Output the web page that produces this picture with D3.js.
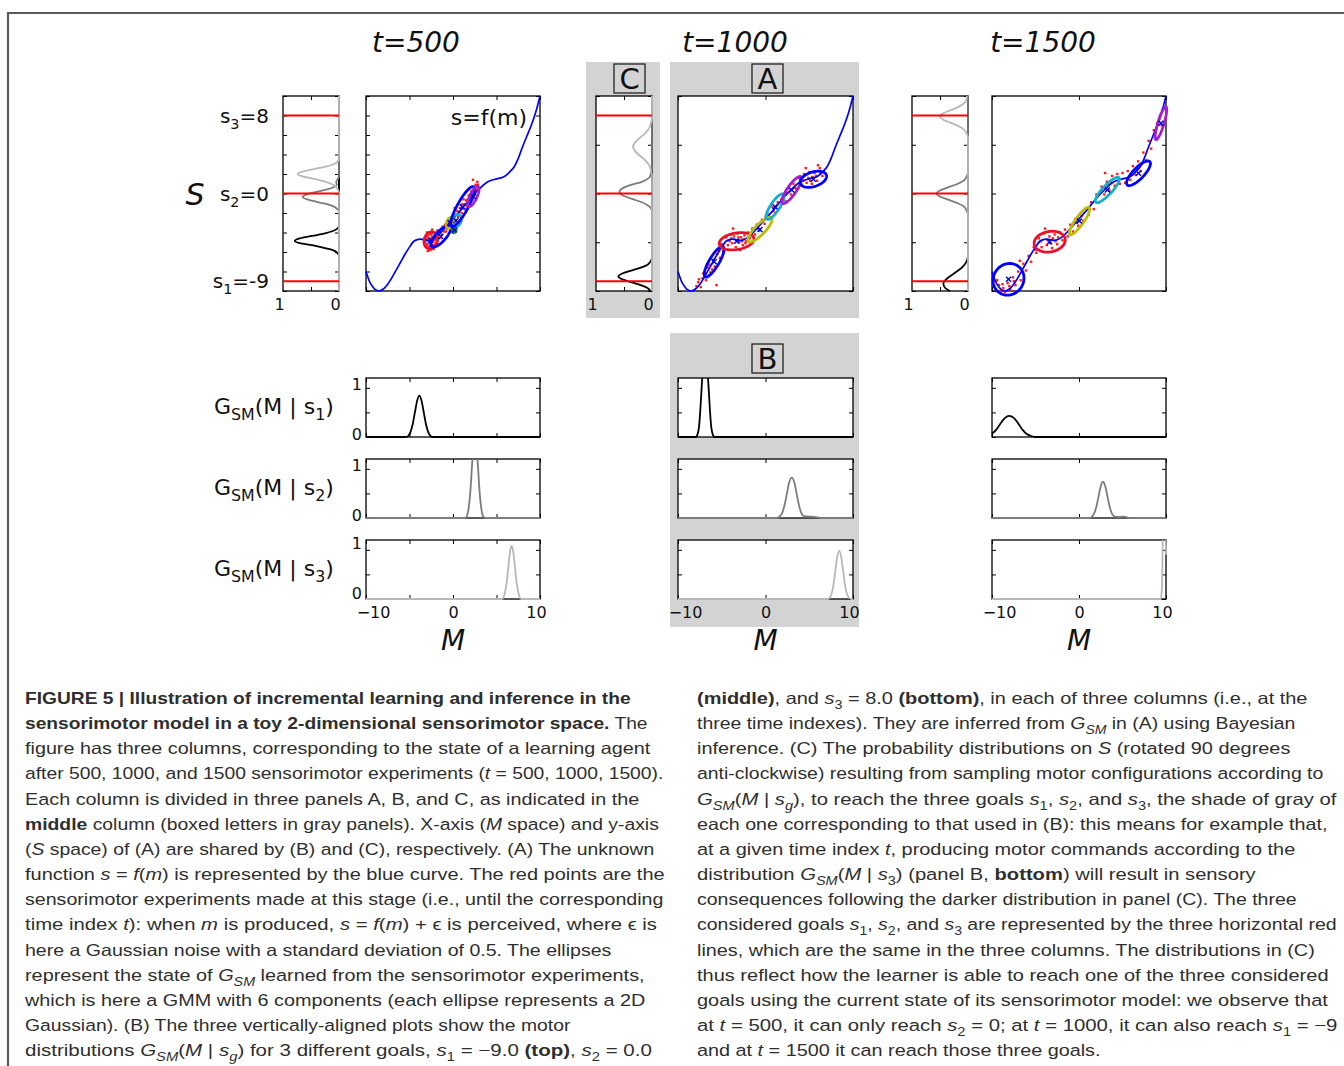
<!doctype html>
<html>
<head>
<meta http-equiv="Content-type" content="text/html; charset=utf-8"/>
<script src="https://d3js.org/d3.v7.min.js"></script>
<style>
body{margin:0;background:#fff;}
text{font-family:"DejaVu Sans",sans-serif;fill:#111;}
.cap text{font-family:"Liberation Sans",Arial,sans-serif;fill:#2e2e2e;}
</style>
</head>
<body>
<svg width="1344" height="1066"></svg>
<script>
// ---- values ----
var titles = ["t=500", "t=1000", "t=1500"];
var goals = [-9, 0, 8];
var goalLabels = ["s<sub>1</sub>=-9", "s<sub>2</sub>=0", "s<sub>3</sub>=8"];
var bLabels = ["G<sub>SM</sub>(M | s<sub>1</sub>)", "G<sub>SM</sub>(M | s<sub>2</sub>)", "G<sub>SM</sub>(M | s<sub>3</sub>)"];

// s = f(m), the blue curve [m, s]
var fCurve = [[-10,-8.0],[-9.5,-9.2],[-9,-9.8],[-8.5,-10.0],[-8,-9.8],[-7.5,-9.3],[-7,-8.6],[-6.5,-7.8],[-6,-7.0],
  [-5.5,-6.2],[-5,-5.5],[-4.5,-4.9],[-4,-4.7],[-3.5,-4.7],[-3,-4.8],[-2.5,-4.75],[-2,-4.5],[-1.5,-4.1],[-1,-3.6],
  [0,-2.6],[1,-1.6],[2,-0.5],[3,0.45],[4,1.2],[5,1.5],[5.5,1.6],[6,1.8],[6.5,2.2],[7,2.7],[7.5,3.6],[8,4.8],
  [8.5,5.9],[9,7.0],[9.5,8.3],[10,10]];

// sensorimotor experiments (red points) [m, s]
var pts500 = [[-3.1,-4.6],[-3.0,-5.2],[-2.9,-4.4],[-2.8,-5.5],[-2.7,-4.9],[-2.6,-4.2],[-2.6,-5.8],[-2.5,-5.0],[-2.4,-4.5],
  [-2.3,-5.3],[-2.2,-4.0],[-2.1,-4.8],[-2.0,-5.1],[-1.9,-4.3],[-1.8,-3.8],[-1.6,-4.6],[-1.5,-3.9],[-1.3,-4.2],[-1.2,-3.4],
  [-1.0,-3.9],[-0.9,-3.2],[-0.7,-3.6],[-0.5,-2.8],[-0.4,-3.4],[-0.2,-2.5],[0.0,-3.0],[0.1,-2.2],[0.3,-2.7],[0.5,-1.8],
  [0.6,-2.4],[0.8,-1.5],[1.0,-2.0],[1.1,-1.1],[1.3,-1.6],[1.5,-0.7],[1.6,-1.3],[1.8,-0.2],[1.9,-0.8],[2.1,0.2],[2.2,-0.5],
  [2.4,0.6],[2.5,-0.1],[2.6,0.9],[2.7,0.3],[2.8,1.2],[2.9,0.5],[-2.9,-5.9],[-2.4,-3.7],[0.2,-1.5],[2.3,1.4],[-3.0,-4.0],
  [-2.7,-5.4],[-2.2,-5.6],[1.2,-0.6],[-3.2,-5.0],[-3.1,-5.4],[-2.95,-4.8],[-2.85,-4.1],[-2.75,-5.1],[-2.65,-4.6],
  [-2.55,-5.4],[-2.45,-4.2],[-2.35,-4.9],[-2.25,-5.7],[-2.15,-4.4],[-2.05,-5.3],[-1.95,-4.7],[-1.7,-4.2],[-1.4,-4.5],
  [-1.1,-3.6],[-0.8,-3.9],[-0.6,-3.1],[-0.3,-2.9],[0.4,-2.2],[0.7,-1.9],[0.9,-1.2],[1.4,-1.1],[1.7,-0.6],[2.0,-0.1],
  [2.3,0.3],[2.6,0.4],[2.75,0.8],[2.85,0.9]];
var pts1000 = [[-7.9,-9.5],[-7.6,-8.8],[-7.4,-9.6],[-7.1,-8.2],[-6.8,-8.9],[-6.6,-7.6],[-6.3,-8.1],[-6.0,-6.8],[-5.8,-7.5],
  [-5.5,-6.2],[-5.2,-6.6],[-5.0,-5.2],[-4.8,-5.9],[-4.5,-4.5],[-4.3,-5.3],[-4.0,-4.2],[-3.8,-5.1],[-3.6,-4.4],[-3.4,-5.5],
  [-3.2,-4.1],[-3.0,-5.0],[-2.8,-4.5],[-2.6,-5.3],[-2.4,-4.3],[-2.2,-4.9],[-2.0,-4.0],[-1.8,-4.6],[-1.5,-3.6],[-1.2,-4.2],
  [-1.0,-3.2],[-0.7,-3.8],[-0.4,-2.7],[-0.1,-3.1],[0.2,-2.0],[0.5,-2.6],[0.8,-1.4],[1.1,-2.0],[1.4,-0.9],[1.7,-1.4],
  [2.0,-0.2],[2.3,-0.8],[2.6,0.5],[2.9,-0.1],[3.2,1.0],[3.5,0.5],[3.8,1.6],[4.1,0.9],[4.4,2.0],[4.7,1.1],[5.0,2.2],
  [5.3,1.0],[5.6,2.1],[5.9,1.3],[6.2,2.6],[6.5,1.8],[-5.6,-9.4],[-3.7,-3.6],[4.6,2.6],[6.0,2.9],[-2.9,-5.8],
  [-7.7,-9.1],[-7.2,-8.7],[-6.9,-8.2],[-6.4,-7.3],[-6.1,-7.8],[-5.3,-5.9],[-4.1,-4.9],[-3.9,-4.6],[-3.3,-4.8],[-3.1,-4.5],
  [-2.7,-4.9],[-2.5,-4.7],[-2.3,-5.1],[-1.9,-4.3],[-0.9,-3.6],[0.0,-2.5],[0.9,-1.8],[1.8,-0.6],[2.4,0.1],[3.3,0.6],
  [4.0,1.4],[4.9,1.6],[5.4,1.7],[5.8,1.8],[6.3,2.1],[4.3,1.3],[5.1,1.3]];
var pts1500 = [[-9.9,-8.6],[-9.7,-9.6],[-9.4,-8.9],[-9.1,-10.0],[-8.8,-9.3],[-8.5,-10.1],[-8.2,-9.2],[-7.9,-9.9],[-7.6,-8.6],
  [-7.3,-9.4],[-7.0,-8.0],[-6.7,-8.9],[-6.4,-7.2],[-6.1,-7.9],[-5.8,-6.4],[-5.5,-7.0],[-5.2,-5.5],[-4.9,-6.1],[-4.6,-4.6],
  [-4.3,-5.5],[-4.0,-4.1],[-3.7,-5.3],[-3.4,-4.4],[-3.1,-5.6],[-2.8,-4.2],[-2.5,-5.2],[-2.2,-4.0],[-1.9,-4.8],[-1.6,-3.7],
  [-1.3,-4.4],[-1.0,-3.2],[-0.7,-3.9],[-0.4,-2.6],[-0.1,-3.3],[0.2,-2.0],[0.5,-2.8],[0.8,-1.5],[1.1,-2.2],[1.4,-0.9],
  [1.7,-1.6],[2.0,-0.1],[2.3,-0.9],[2.6,0.7],[2.9,-0.1],[3.2,1.2],[3.5,0.3],[3.8,1.8],[4.1,0.8],[4.4,2.0],[4.7,1.0],
  [5.0,2.1],[5.3,1.1],[5.6,2.3],[5.9,1.4],[6.2,2.8],[6.5,1.9],[6.8,3.3],[7.1,2.3],[7.4,4.2],[7.7,3.4],[8.0,5.4],[8.3,4.6],
  [8.6,6.5],[8.9,5.7],[9.2,7.6],[9.5,7.0],[-6.8,-6.9],[-3.9,-3.6],[3.0,2.1],
  [-9.6,-9.0],[-9.2,-9.4],[-8.7,-9.7],[-8.0,-9.5],[-7.5,-9.0],[-5.0,-5.8],[-4.4,-4.9],[-3.6,-4.8],[-3.3,-5.1],[-3.0,-4.6],
  [-2.7,-4.9],[-2.4,-4.5],[-0.3,-3.0],[0.3,-2.3],[2.5,0.2],[3.1,0.5],[3.4,0.9],[3.7,1.1],[6.6,2.5],[7.0,2.9],[7.2,3.0],
  [9.3,7.9],[9.4,8.1],[9.6,8.6],[9.0,7.2]];

// GMM components: [m centre, s centre, semi-axis a, semi-axis b, angle deg, component]
var ell500 = [[-2.55,-4.8,0.9,0.75,60,1],[-1.4,-4.4,1.47,0.55,44,0],[-0.34,-3.0,0.6,0.4,60,2],[0.15,-3.75,0.3,0.2,60,5],
  [0.35,-2.8,0.7,0.55,50,3],[1.1,-1.35,2.4,0.6,58,0],[2.35,-0.3,1.16,0.4,62,4]];
var ell1000 = [[-5.87,-7.0,1.86,0.55,56,0],[-3.3,-4.9,2.0,0.85,8,1],[-0.63,-3.7,1.79,0.55,42,2],[1.09,-1.35,1.6,0.5,53,3],
  [3.0,0.36,1.72,0.5,52,4],[5.47,1.46,1.55,0.75,15,0]];
var ell1500 = [[-8.1,-8.8,1.8,1.6,20,0],[-3.37,-4.94,1.8,1.05,8,1],[0.06,-2.82,1.77,0.45,51,2],[3.26,0.36,1.83,0.5,43,3],
  [6.84,2.07,1.77,0.6,42,0],[9.42,7.2,1.78,0.35,71,4]];

// (C) distributions on S for goals s1, s2, s3 : [s, p]
var sDist500 = [
  [[-10,0],[-6.4,0],[-6.1,0.03],[-5.8,0.11],[-5.6,0.25],[-5.3,0.48],[-5.1,0.7],[-4.85,0.79],[-4.6,0.7],[-4.35,0.48],[-4.1,0.25],[-3.85,0.11],[-3.6,0.03],[-3.3,0],[10,0]],
  [[-10,0],[-1.9,0],[-1.6,0.03],[-1.35,0.09],[-1.1,0.21],[-0.85,0.4],[-0.6,0.57],[-0.33,0.65],[-0.08,0.57],[0.17,0.4],[0.42,0.21],[0.67,0.09],[0.9,0.04],[1.2,0.05],[1.5,0.02],[1.8,0],[10,0]],
  [[-10,0],[0.1,0],[0.5,0.03],[0.9,0.1],[1.2,0.24],[1.5,0.45],[1.75,0.65],[2.0,0.74],[2.25,0.65],[2.5,0.45],[2.75,0.24],[3.0,0.1],[3.25,0.03],[3.6,0],[10,0]]];
var sDist1000 = [
  [[-10,0.03],[-9.7,0.08],[-9.4,0.2],[-9.1,0.37],[-8.8,0.53],[-8.5,0.6],[-8.2,0.53],[-7.9,0.37],[-7.6,0.2],[-7.3,0.08],[-7.0,0.03],[-6.6,0],[10,0]],
  [[-10,0],[-1.8,0],[-1.5,0.02],[-1.2,0.08],[-0.9,0.18],[-0.55,0.36],[-0.2,0.52],[0.18,0.58],[0.55,0.52],[0.9,0.36],[1.2,0.18],[1.5,0.08],[1.8,0.03],[2.1,0.02],[2.5,0],[10,0]],
  [[-10,0],[1.9,0],[2.4,0.02],[2.9,0.05],[3.4,0.12],[3.9,0.22],[4.35,0.3],[4.8,0.34],[5.25,0.3],[5.7,0.22],[6.2,0.12],[6.7,0.05],[7.2,0.02],[7.7,0],[10,0]]];
var sDist1500 = [
  [[-10,0.32],[-9.6,0.42],[-9.2,0.44],[-8.8,0.39],[-8.4,0.3],[-8.0,0.2],[-7.6,0.11],[-7.2,0.05],[-6.8,0.015],[-6.4,0],[10,0]],
  [[-10,0],[-2.1,0],[-1.7,0.03],[-1.3,0.08],[-0.95,0.2],[-0.6,0.37],[-0.3,0.5],[0,0.56],[0.3,0.5],[0.6,0.37],[0.95,0.2],[1.3,0.08],[1.7,0.03],[2.1,0],[10,0]],
  [[-10,0],[5.8,0],[6.2,0.03],[6.6,0.08],[6.95,0.18],[7.3,0.33],[7.6,0.45],[7.9,0.5],[8.2,0.45],[8.5,0.33],[8.85,0.18],[9.2,0.08],[9.6,0.03],[10,0.02]]];

// (B) motor distributions G_SM(M | s_g) : [m, p]
var mDist500 = [
  [[-10,0],[-5.4,0],[-5.1,0.03],[-4.87,0.11],[-4.62,0.27],[-4.37,0.51],[-4.12,0.74],[-3.87,0.84],[-3.62,0.74],[-3.37,0.51],[-3.12,0.27],[-2.87,0.11],[-2.62,0.03],[-2.3,0],[10,0]],
  [[-10,0],[1.4,0],[1.6,0.04],[1.8,0.2],[2.0,0.55],[2.2,1.1],[2.35,1.43],[2.53,1.6],[2.7,1.43],[2.85,1.1],[3.05,0.55],[3.25,0.2],[3.45,0.04],[3.7,0],[10,0]],
  [[-10,0],[5.6,0],[5.8,0.03],[6.0,0.16],[6.2,0.38],[6.4,0.72],[6.57,0.98],[6.74,1.08],[6.91,0.98],[7.08,0.72],[7.28,0.38],[7.48,0.16],[7.68,0.03],[7.9,0],[10,0]]];
var mDist1000 = [
  [[-10,0],[-8.0,0],[-7.8,0.04],[-7.6,0.2],[-7.45,0.55],[-7.3,1.0],[-7.1,1.5],[-6.91,1.7],[-6.7,1.5],[-6.5,1.0],[-6.35,0.55],[-6.2,0.2],[-6.0,0.04],[-5.8,0],[10,0]],
  [[-10,0],[1.3,0],[1.6,0.03],[1.9,0.1],[2.2,0.28],[2.45,0.5],[2.7,0.72],[3.0,0.82],[3.3,0.72],[3.55,0.5],[3.8,0.28],[4.1,0.1],[4.4,0.04],[5.0,0.03],[5.6,0.02],[6.5,0],[10,0]],
  [[-10,0],[7.1,0],[7.35,0.03],[7.6,0.14],[7.8,0.33],[8.0,0.6],[8.2,0.86],[8.43,0.98],[8.65,0.86],[8.85,0.6],[9.05,0.33],[9.25,0.14],[9.5,0.03],[9.8,0],[10,0]]];
var mDist1500 = [
  [[-10,0.07],[-9.5,0.15],[-9.0,0.28],[-8.5,0.39],[-8.03,0.43],[-7.5,0.39],[-7.0,0.28],[-6.5,0.15],[-6.0,0.06],[-5.5,0.02],[-5.0,0],[10,0]],
  [[-10,0],[1.2,0],[1.5,0.03],[1.76,0.1],[2.01,0.24],[2.26,0.45],[2.51,0.65],[2.76,0.74],[3.01,0.65],[3.26,0.45],[3.51,0.24],[3.76,0.1],[4.1,0.03],[4.6,0.02],[5.2,0.03],[5.8,0],[10,0]],
  [[-10,0],[9.4,0],[9.55,0.3],[9.62,1.2],[9.7,2.0],[9.8,2.2],[9.9,2.0],[9.98,1.2],[10,0.9]]];

var mTicks = [[-10,-5,0,5,10], [-10,0,10], [-10,0,10]];
var sTicks = [[-10,-8,-6,-4,-2,0,2,4,6,8,10], [-10,-5,0,5,10], [-10,-5,0,5,10]];
var pTicks = [0, 0.5, 1];

// caption lines
var capLeft = [
  "<b>FIGURE 5 | Illustration of incremental learning and inference in the</b>",
  "<b>sensorimotor model in a toy 2-dimensional sensorimotor space.</b> The",
  "figure has three columns, corresponding to the state of a learning agent",
  "after 500, 1000, and 1500 sensorimotor experiments (<i>t</i> = 500, 1000, 1500).",
  "Each column is divided in three panels A, B, and C, as indicated in the",
  "<b>middle</b> column (boxed letters in gray panels). X-axis (<i>M</i> space) and y-axis",
  "(<i>S</i> space) of (A) are shared by (B) and (C), respectively. (A) The unknown",
  "function <i>s</i> = <i>f</i>(<i>m</i>) is represented by the blue curve. The red points are the",
  "sensorimotor experiments made at this stage (i.e., until the corresponding",
  "time index <i>t</i>): when <i>m</i> is produced, <i>s</i> = <i>f</i>(<i>m</i>) + ϵ is perceived, where ϵ is",
  "here a Gaussian noise with a standard deviation of 0.5. The ellipses",
  "represent the state of <i>G<sub>SM</sub></i> learned from the sensorimotor experiments,",
  "which is here a GMM with 6 components (each ellipse represents a 2D",
  "Gaussian). (B) The three vertically-aligned plots show the motor",
  "distributions <i>G<sub>SM</sub></i>(<i>M</i> | <i>s<sub>g</sub></i>) for 3 different goals, <i>s</i><sub>1</sub> = −9.0 <b>(top)</b>, <i>s</i><sub>2</sub> = 0.0"];
var capRight = [
  "<b>(middle)</b>, and <i>s</i><sub>3</sub> = 8.0 <b>(bottom)</b>, in each of three columns (i.e., at the",
  "three time indexes). They are inferred from <i>G<sub>SM</sub></i> in (A) using Bayesian",
  "inference. (C) The probability distributions on <i>S</i> (rotated 90 degrees",
  "anti-clockwise) resulting from sampling motor configurations according to",
  "<i>G<sub>SM</sub></i>(<i>M</i> | <i>s<sub>g</sub></i>), to reach the three goals <i>s</i><sub>1</sub>, <i>s</i><sub>2</sub>, and <i>s</i><sub>3</sub>, the shade of gray of",
  "each one corresponding to that used in (B): this means for example that,",
  "at a given time index <i>t</i>, producing motor commands according to the",
  "distribution <i>G<sub>SM</sub></i>(<i>M</i> | <i>s</i><sub>3</sub>) (panel B, <b>bottom</b>) will result in sensory",
  "consequences following the darker distribution in panel (C). The three",
  "considered goals <i>s</i><sub>1</sub>, <i>s</i><sub>2</sub>, and <i>s</i><sub>3</sub> are represented by the three horizontal red",
  "lines, which are the same in the three columns. The distributions in (C)",
  "thus reflect how the learner is able to reach one of the three considered",
  "goals using the current state of its sensorimotor model: we observe that",
  "at <i>t</i> = 500, it can only reach <i>s</i><sub>2</sub> = 0; at <i>t</i> = 1000, it can also reach <i>s</i><sub>1</sub> = −9",
  "and at <i>t</i> = 1500 it can reach those three goals."];

// ---- styles / layout ----
var shade = ["#000000", "#7c7c7c", "#b8b8b8"];
var ellColors = ["#0000ff", "#e8102a", "#bcbc00", "#12b0cc", "#a11fd0", "#1a8a1a"];
var panelGray = "#d3d3d3";
var colLayout = [
  {c: [283, 339], a: [366, 540], t: 416},
  {c: [596, 652], a: [678, 853], t: 735},
  {c: [912, 968], a: [992, 1166], t: 1043}
];
var topBand = [291, 96];
var rows = [[437, 378], [518, 459], [599, 540]];
var capLeftEnd = [631, 648, 651, 664, 640, 659, 655, 665, 664, 657, 612, 645, 647, 571, 652];
var capRightEnd = [1308, 1296, 1291, 1324, 1337, 1328, 1296, 1257, 1297, 1337, 1315, 1329, 1329, 1338, 1101];

var colData = [
  {pts: pts500, ell: ell500, sd: sDist500, md: mDist500},
  {pts: pts1000, ell: ell1000, sd: sDist1000, md: mDist1000},
  {pts: pts1500, ell: ell1500, sd: sDist1500, md: mDist1500}
];

var svg = d3.select("svg");
svg.append("rect").attr("width", 1344).attr("height", 1066).attr("fill", "#fff");
svg.append("path").attr("d", "M8,1066V13H1344").attr("fill", "none")
  .attr("stroke", "#5a5a5a").attr("stroke-width", 2.2);

// text with <b>, <i>, <sub> markup
function rich(parent, markup, size) {
  var doc = new DOMParser().parseFromString("<r>" + markup + "</r>", "application/xml");
  var t = parent.append("text").attr("font-size", size).style("white-space", "pre");
  var cur = 0;
  function walk(node, st) {
    node.childNodes.forEach(function(n) {
      if (n.nodeType === 3) {
        var ts = t.append("tspan").text(n.nodeValue);
        var shift = st.sub ? size * 0.3 : 0;
        if (shift !== cur) { ts.attr("dy", shift - cur); cur = shift; }
        if (st.b) ts.attr("font-weight", "bold");
        if (st.i) ts.attr("font-style", "italic");
        if (st.sub) ts.attr("font-size", size * 0.72);
      } else if (n.nodeType === 1) {
        var s2 = Object.assign({}, st);
        s2[n.nodeName] = true;
        walk(n, s2);
      }
    });
  }
  walk(doc.documentElement, {});
  return t;
}

// frame with inward ticks on all four sides
function frameTicks(g, x, y, xt, yt) {
  var xr = x.range(), yr = y.range();
  var xl = Math.min(xr[0], xr[1]), xh = Math.max(xr[0], xr[1]);
  var yb = Math.max(yr[0], yr[1]), yt0 = Math.min(yr[0], yr[1]);
  g.append("rect").attr("x", xl).attr("y", yt0).attr("width", xh - xl).attr("height", yb - yt0)
    .attr("fill", "#fff").attr("stroke", "#000").attr("stroke-width", 1.3);
  g.append("g").attr("transform", "translate(0," + yb + ")")
    .call(d3.axisBottom(x).tickValues(xt).tickSize(-4).tickFormat(""));
  g.append("g").attr("transform", "translate(0," + yt0 + ")")
    .call(d3.axisTop(x).tickValues(xt).tickSize(-4).tickFormat(""));
  g.append("g").attr("transform", "translate(" + xl + ",0)")
    .call(d3.axisLeft(y).tickValues(yt).tickSize(-4).tickFormat(""));
  g.append("g").attr("transform", "translate(" + xh + ",0)")
    .call(d3.axisRight(y).tickValues(yt).tickSize(-4).tickFormat(""));
  g.selectAll(".domain").remove();
}

function minusFmt(d) { return d < 0 ? "\u2212" + (-d) : "" + d; }

// gray panels of the middle column
[[586, 62, 74, 256], [670, 62, 189, 256], [670, 333, 189, 294]].forEach(function(r) {
  svg.append("rect").attr("x", r[0]).attr("y", r[1]).attr("width", r[2]).attr("height", r[3]).attr("fill", panelGray);
});
[["C", 614, 64], ["A", 752, 64], ["B", 752, 344]].forEach(function(b) {
  svg.append("rect").attr("x", b[1]).attr("y", b[2]).attr("width", 31).attr("height", 29)
    .attr("fill", panelGray).attr("stroke", "#222").attr("stroke-width", 1.3);
  svg.append("text").attr("x", b[1] + 15.5).attr("y", b[2] + 25).attr("text-anchor", "middle")
    .attr("font-size", 29).text(b[0]);
});

var sy = d3.scaleLinear().domain([-10, 10]).range(topBand);

colLayout.forEach(function(L, ci) {
  var D = colData[ci];
  var ax = d3.scaleLinear().domain([-10, 10]).range(L.a);
  var px = d3.scaleLinear().domain([1, 0]).range(L.c);

  svg.append("text").attr("x", L.t).attr("y", 52).attr("text-anchor", "middle")
    .attr("font-size", 28).attr("font-style", "italic").text(titles[ci]);

  // (C) rotated S distributions
  var gc = svg.append("g");
  frameTicks(gc, px, sy, [0.5], sTicks[ci]);
  var lineC = d3.line().x(function(d) { return px(d[1]); }).y(function(d) { return sy(d[0]); })
    .curve(d3.curveMonotoneY);
  D.sd.forEach(function(curve, k) {
    gc.append("path").datum(curve.slice().reverse()).attr("d", lineC)
      .attr("fill", "none").attr("stroke", shade[k]).attr("stroke-width", 1.8);
  });
  gc.selectAll(".goal").data(goals).enter().append("line").attr("class", "goal")
    .attr("x1", L.c[0]).attr("x2", L.c[1])
    .attr("y1", function(d) { return sy(d); }).attr("y2", function(d) { return sy(d); })
    .attr("stroke", "#ff0000").attr("stroke-width", 2);
  var cl = gc.append("g").attr("transform", "translate(0," + topBand[0] + ")")
    .call(d3.axisBottom(px).tickValues([1, 0]).tickSize(0).tickPadding(8).tickFormat(d3.format("d")));
  cl.attr("font-size", 16).select(".domain").remove();
  cl.selectAll("text").attr("x", -4);

  // (A) sensorimotor space
  var ga = svg.append("g");
  frameTicks(ga, ax, sy, mTicks[ci], sTicks[ci]);
  ga.selectAll(".pt").data(D.pts).enter().append("rect").attr("class", "pt")
    .attr("x", function(d) { return ax(d[0]) - 1.2; }).attr("y", function(d) { return sy(d[1]) - 1.2; })
    .attr("width", 2.4).attr("height", 2.4).attr("fill", "#ff1a1a");
  ga.append("path").datum(fCurve)
    .attr("d", d3.line().x(function(d) { return ax(d[0]); }).y(function(d) { return sy(d[1]); }).curve(d3.curveCatmullRom))
    .attr("fill", "none").attr("stroke", "#0000ff").attr("stroke-width", 1.7);
  var ellLine = d3.line().x(function(d) { return ax(d[0]); }).y(function(d) { return sy(d[1]); }).curve(d3.curveLinearClosed);
  ga.selectAll(".ell").data(D.ell).enter().append("path").attr("class", "ell")
    .attr("d", function(e) {
      var th = e[4] * Math.PI / 180, pts = [];
      for (var i = 0; i < 72; i++) {
        var t = i / 72 * 2 * Math.PI;
        pts.push([e[0] + e[2] * Math.cos(th) * Math.cos(t) - e[3] * Math.sin(th) * Math.sin(t),
                  e[1] + e[2] * Math.sin(th) * Math.cos(t) + e[3] * Math.cos(th) * Math.sin(t)]);
      }
      return ellLine(pts);
    })
    .attr("fill", "none").attr("stroke", function(e) { return ellColors[e[5]]; }).attr("stroke-width", 2.8);
  ga.selectAll(".ctr").data(D.ell).enter().append("path").attr("class", "ctr")
    .attr("d", function(e) {
      var x = ax(e[0]), y = sy(e[1]);
      return "M" + (x - 2.5) + "," + (y - 2.5) + "L" + (x + 2.5) + "," + (y + 2.5) +
             "M" + (x - 2.5) + "," + (y + 2.5) + "L" + (x + 2.5) + "," + (y - 2.5);
    })
    .attr("stroke", "#0000cc").attr("stroke-width", 1.4);

  // (B) motor distributions
  D.md.forEach(function(curve, r) {
    var by = d3.scaleLinear().domain([0, 1.2]).range(rows[r]);
    var gb = svg.append("g");
    frameTicks(gb, ax, by, mTicks[ci], pTicks);
    var cid = "clip" + ci + r;
    gb.append("clipPath").attr("id", cid).append("rect")
      .attr("x", L.a[0] - 1).attr("y", rows[r][1]).attr("width", L.a[1] - L.a[0] + 2).attr("height", rows[r][0] - rows[r][1] + 2);
    gb.append("path").datum(curve).attr("clip-path", "url(#" + cid + ")")
      .attr("d", d3.line().x(function(d) { return ax(d[0]); }).y(function(d) { return by(d[1]); }).curve(d3.curveMonotoneX))
      .attr("fill", "none").attr("stroke", shade[r]).attr("stroke-width", 1.8);
    if (ci === 0) {
      var yl = gb.append("g").attr("transform", "translate(" + L.a[0] + ",0)")
        .call(d3.axisLeft(by).tickValues([0, 1]).tickSize(0).tickPadding(4).tickFormat(d3.format("d")));
      yl.attr("font-size", 16).select(".domain").remove();
      yl.selectAll("text").attr("y", r === 2 ? -6 : -3);
    }
    if (r === 2) {
      var xl = gb.append("g").attr("transform", "translate(0," + rows[r][0] + ")")
        .call(d3.axisBottom(ax).tickValues([-10, 0, 10]).tickSize(0).tickPadding(8).tickFormat(minusFmt));
      xl.attr("font-size", 16).select(".domain").remove();
      xl.selectAll("text").attr("x", function(d) { return d < 0 ? 7 : (d > 0 ? -4 : 0); });
    }
  });

  svg.append("text").attr("x", (L.a[0] + L.a[1]) / 2).attr("y", 650).attr("text-anchor", "middle")
    .attr("font-size", 28).attr("font-style", "italic").text("M");
});

// left-hand labels
goalLabels.forEach(function(l, i) {
  rich(svg.append("g").attr("transform", "translate(269," + (sy(goals[i]) + 7) + ")"), l, 20)
    .attr("text-anchor", "end");
});
svg.append("text").attr("x", 195).attr("y", 205).attr("text-anchor", "middle")
  .attr("font-size", 30).attr("font-style", "italic").text("S");
svg.append("text").attr("x", 527).attr("y", 125).attr("text-anchor", "end").attr("font-size", 22).text("s=f(m)");
bLabels.forEach(function(l, i) {
  rich(svg.append("g").attr("transform", "translate(214," + ((rows[i][0] + rows[i][1]) / 2 + 6) + ")"), l, 22);
});

// caption
var cap = svg.append("g").attr("class", "cap");
function capCol(lines, ends, x0) {
  lines.forEach(function(l, i) {
    var g = cap.append("g");
    var t = rich(g, l, 16.5);
    var w = t.node().getBBox().width;
    g.attr("transform", "translate(" + x0 + "," + (704 + i * 25.15) + ") scale(" + ((ends[i] - x0) / w) + ",1)");
  });
}
capCol(capLeft, capLeftEnd, 25);
capCol(capRight, capRightEnd, 697);
</script>
</body>
</html>
